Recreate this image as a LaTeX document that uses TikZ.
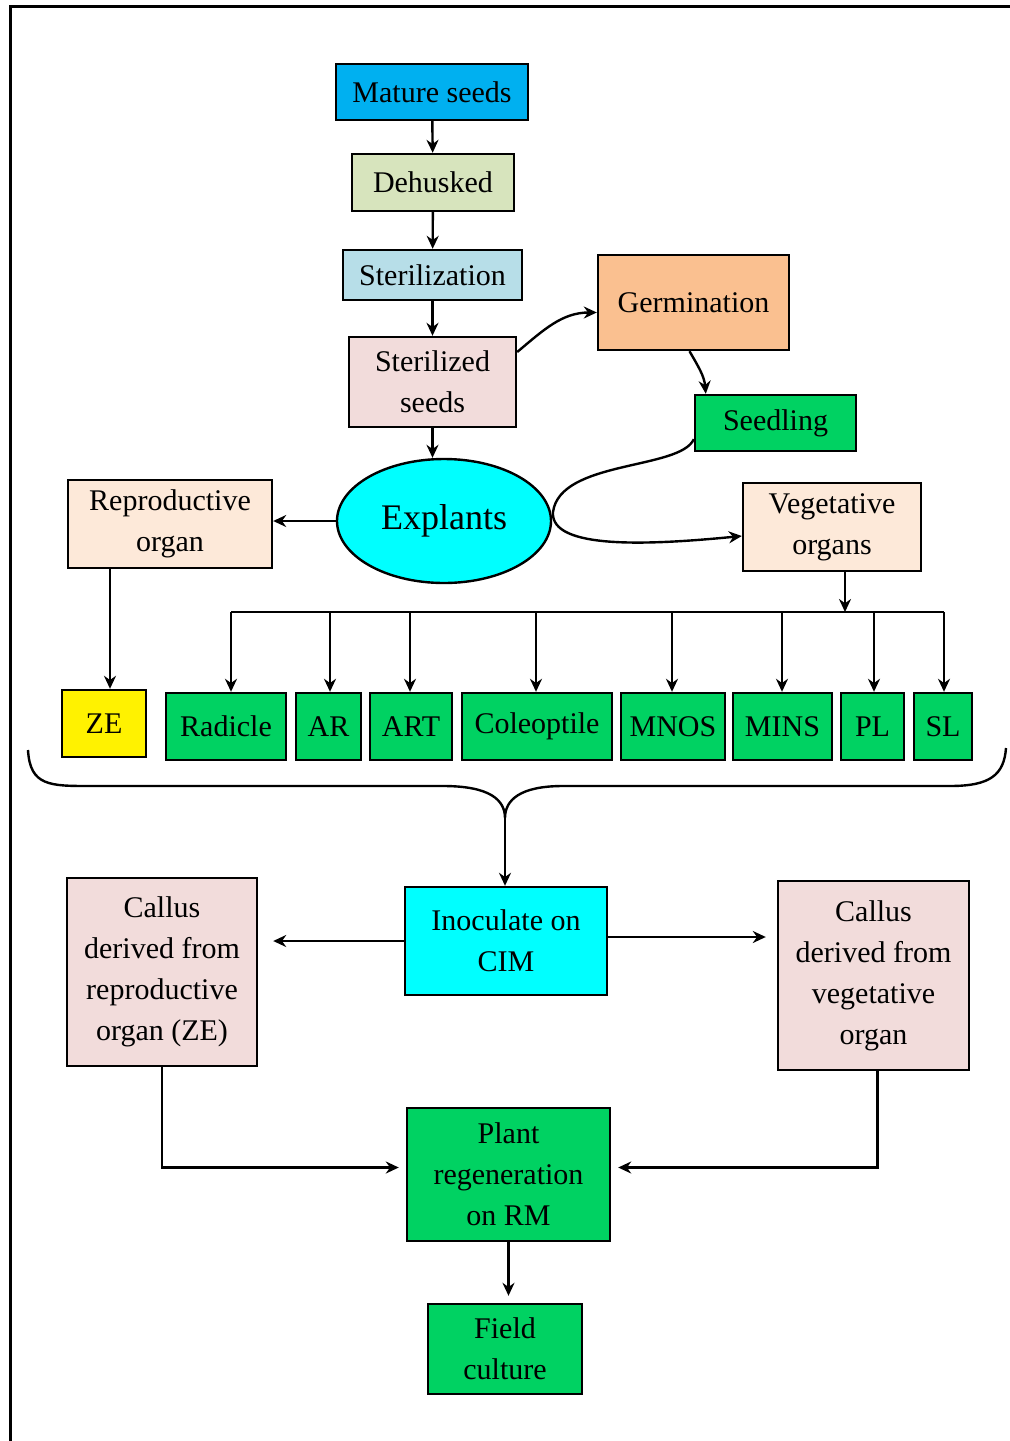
\documentclass[tikz,border=0pt]{standalone}
\usepackage{fontspec}
\setmainfont{Liberation Serif}
\usetikzlibrary{positioning}
\usetikzlibrary{calc}
\usetikzlibrary{arrows.meta}
\usetikzlibrary{shapes.geometric}
\definecolor{matureblue}{HTML}{00B0F0}
\definecolor{huskgreen}{HTML}{D7E4BD}
\definecolor{sterilblue}{HTML}{B7DEE8}
\definecolor{seedpink}{HTML}{F2DCDB}
\definecolor{germorange}{HTML}{FAC090}
\definecolor{leafgreen}{HTML}{00D262}
\definecolor{organpeach}{HTML}{FDE9D9}
\definecolor{mediumcyan}{HTML}{00FFFF}

\begin{document}
\begin{tikzpicture}[x=0.5pt, y=-0.5pt,
    box/.style={draw, line width=1.2pt, inner sep=0pt, align=center,
        font=\rmfamily\fontsize{15}{20.5}\selectfont},
    link/.style={line width=1.2pt, -{Stealth[length=6.5pt, width=6pt]}}]
    \useasboundingbox (0,0) rectangle (1010,1441);
    \draw[line width=1.5pt] (10,1441) -- (10,6) -- (1010,6);

    % seed preparation
    \node[box, fill=matureblue, minimum width=96pt, minimum height=28pt] (mature) at (432,92) {Mature seeds};
    \node[box, fill=huskgreen, minimum width=81pt, minimum height=28.5pt] (husk) at (433,182.5) {Dehusked};
    \node[box, fill=sterilblue, minimum width=89.5pt, minimum height=25pt] (steril) at (432.5,275) {Sterilization};
    \node[box, fill=seedpink, minimum width=83.5pt, minimum height=45pt] (sterseed) at (432.5,382) {Sterilized\\seeds};
    \node[box, fill=germorange, minimum width=95.5pt, minimum height=47.5pt] (germ) at (693.5,302.5) {Germination};
    \node[box, fill=leafgreen, minimum width=80.5pt, minimum height=28pt] (seedling) at (775.5,423) {Seedling};
    \node[box, ellipse, fill=mediumcyan, minimum width=107pt, minimum height=62pt, font=\rmfamily\fontsize{18}{22}\selectfont] (explants) at (444,521) {Explants};
    \node[box, fill=organpeach, minimum width=102pt, minimum height=44pt] (repro) at (170,524) {Reproductive\\organ};
    \node[box, fill=organpeach, minimum width=89pt, minimum height=44pt] (veg) at (832,527) {Vegetative\\organs};

    % explant sources
    \node[box, fill=yellow, minimum width=42pt, minimum height=33.5pt] (ze) at (104,723.5) {ZE};
    \foreach \n/\x/\w/\t in {radicle/226/60/Radicle, ar/328.5/32.5/AR, art/411/41/ART,
        coleo/537/75/Coleoptile, mnos/673/52/MNOS, mins/782.5/49.5/MINS,
        pl/872.5/31.5/PL, sl/943/29/SL}
        \node[box, fill=leafgreen, minimum width=\w pt, minimum height=33.5pt] (\n) at (\x,726.5) {\t};

    % culture steps
    \node[box, fill=mediumcyan, minimum width=101pt, minimum height=54pt] (inoc) at (506,941) {Inoculate on\\CIM};
    \node[box, fill=seedpink, minimum width=95pt, minimum height=94pt] (callrep) at (162,972) {Callus\\derived from\\reproductive\\organ (ZE)};
    \node[box, fill=seedpink, minimum width=95.5pt, minimum height=94.5pt] (callveg) at (873.5,975.5) {Callus\\derived from\\vegetative\\organ};
    \node[box, fill=leafgreen, minimum width=101.5pt, minimum height=66.5pt] (regen) at (508.5,1174.5) {Plant\\regeneration\\on RM};
    \node[box, fill=leafgreen, minimum width=77pt, minimum height=45pt] (field) at (505,1349) {Field\\culture};

    \coordinate (loop) at (553,512);
    \coordinate (busL) at (231,612);
    \coordinate (busR) at (944,612);
    \coordinate (vegdrop) at (845,612);
    \coordinate (brace) at (505,818);

    \draw[link] (mature) -- (husk);
    \draw[link] (husk) -- (steril);
    \draw[link] (steril) -- (sterseed);
    \draw[link] (sterseed.south) -- (sterseed.south |- explants.north);
    \draw[link] ([yshift=15pt]sterseed.east) to[out=40, in=180] ([yshift=-5pt]germ.west);
    \draw[link] ([xshift=-2pt]germ.south) to[out=-60, in=95] ([xshift=6pt]seedling.north west);
    \draw[link] ([yshift=6.5pt]seedling.south west) .. controls (680,470) and (560,460) .. (loop)
        .. controls (550,550) and (650,545) .. ([yshift=-4.5pt]veg.west);
    \draw[link] (explants.west) -- (explants.west -| repro.east);
    \draw[link] ([xshift=3pt]ze.north |- repro.south) -- ([xshift=3pt]ze.north);

    \draw[line width=1.2pt] (busL) -- (busR);
    \draw[link] (vegdrop |- veg.south) -- (vegdrop);
    \foreach \n/\x in {radicle/231, ar/330, art/410, coleo/536, mnos/672, mins/782, pl/874, sl/944}
        \draw[link] (\x,612) -- (\x,612 |- \n.north);

    % brace gathering all explants
    \draw[line width=1.2pt] (28,750) .. controls (30,786) and (50,786) .. (90,786) -- (443,786)
        .. controls (490,786) and (505,800) .. (brace)
        .. controls (505,800) and (520,786) .. (563,786) -- (950,786)
        .. controls (990,786) and (1004,775) .. (1006,748);
    \draw[link] (brace) -- (brace |- inoc.north);

    \draw[link, shorten >=7.5pt] (inoc.west) -- (inoc.west -| callrep.east);
    \draw[link, shorten >=5.5pt] ([yshift=2pt]inoc.east) -- ([yshift=2pt]inoc.east -| callveg.west);
    \draw[link, shorten >=3.5pt] (callrep.south) |- ([yshift=3.5pt]regen.west);
    \draw[link, shorten >=3.5pt] ([xshift=2pt]callveg.south) |- ([yshift=3.5pt]regen.east);
    \draw[link, shorten >=3.5pt] (regen.south) -- (regen.south |- field.north);
\end{tikzpicture}
\end{document}
